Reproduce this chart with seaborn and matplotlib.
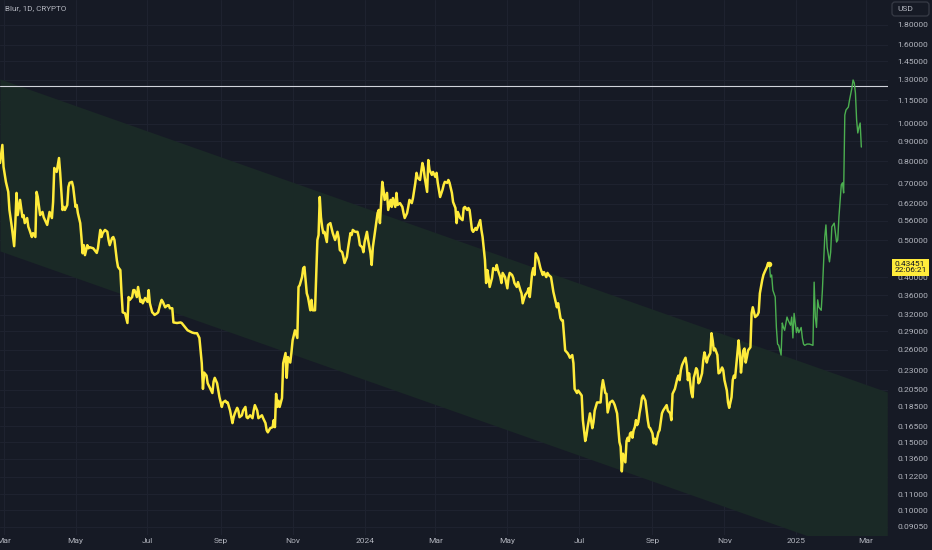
import numpy as np
import pandas as pd
import matplotlib
matplotlib.use("Agg")
import matplotlib.pyplot as plt
import matplotlib.dates as mdates
import matplotlib.transforms as mtrans
from matplotlib.patches import FancyBboxPatch
import seaborn as sns

# ---------------- data ----------------
start_date = "2023-02-26"

hist_days = [0, 2, 3, 5, 7, 8, 10, 12, 13, 14, 15, 17, 19, 20, 21, 23, 24, 25, 27, 28, 30, 31, 32, 34, 36, 37, 40, 42, 44, 45,
             46, 48, 50, 51, 53, 54, 55, 57, 58, 59, 61, 62, 64, 65, 66, 68, 69, 70, 71, 72, 74, 75, 76, 79, 82, 83, 85, 86, 87, 89,
             91, 92, 93, 95, 96, 97, 99, 100, 102, 103, 104, 106, 108, 109, 110, 112, 113, 114, 116, 117, 119, 120, 121, 123, 125, 126, 127, 129, 130, 131,
             133, 134, 136, 137, 138, 140, 142, 143, 144, 146, 147, 150, 153, 154, 157, 159, 163, 165, 167, 169, 170, 171, 172, 173, 175, 176, 178, 180, 181, 182,
             184, 185, 186, 188, 189, 191, 192, 193, 195, 197, 198, 199, 201, 202, 203, 205, 206, 208, 209, 210, 212, 214, 215, 216, 218, 219, 220, 222, 223, 225,
             226, 227, 229, 231, 232, 233, 234, 235, 236, 237, 239, 240, 242, 243, 244, 246, 247, 248, 250, 252, 253, 254, 256, 257, 258, 260, 261, 263, 264, 265,
             267, 269, 270, 271, 272, 273, 274, 275, 277, 278, 280, 281, 282, 284, 286, 287, 288, 290, 291, 292, 294, 295, 297, 298, 299, 301, 303, 304, 305, 307,
             308, 309, 311, 312, 314, 315, 316, 318, 320, 321, 322, 324, 325, 326, 328, 329, 331, 332, 333, 335, 336, 337, 339, 341, 342, 343, 345, 346, 347, 349,
             350, 352, 353, 354, 356, 358, 359, 360, 362, 363, 364, 366, 367, 369, 370, 371, 373, 375, 376, 377, 379, 380, 381, 383, 384, 386, 387, 388, 390, 392,
             393, 394, 396, 397, 398, 400, 401, 403, 404, 405, 407, 408, 409, 411, 412, 413, 414, 415, 417, 418, 420, 421, 422, 424, 425, 426, 428, 430, 431, 432,
             434, 435, 436, 438, 439, 441, 442, 443, 445, 447, 448, 449, 451, 452, 453, 454, 456, 457, 458, 460, 461, 463, 464, 465, 467, 469, 470, 471, 472, 473,
             475, 476, 477, 479, 481, 482, 483, 485, 486, 487, 489, 490, 492, 493, 494, 496, 497, 498, 500, 502, 503, 504, 506, 507, 509, 510, 511, 513, 514, 515,
             517, 519, 520, 521, 523, 524, 525, 526, 527, 528, 530, 531, 532, 533, 534, 535, 536, 537, 538, 539, 540, 541, 542, 543, 544, 545, 546, 547, 548, 549,
             550, 551, 553, 554, 555, 556, 557, 558, 559, 561, 562, 564, 565, 566, 568, 569, 570, 572, 574, 575, 576, 577, 578, 579, 581, 582, 583, 584, 586, 587,
             588, 589, 590, 591, 592, 593, 595, 596, 597, 598, 599, 600, 602, 603, 604, 605, 606, 608, 609, 610, 612, 613, 614, 616, 617, 618, 620, 621, 622, 623,
             625, 626, 627, 628, 629, 630, 631, 632, 633, 634, 636, 637, 638, 640, 642, 643, 644, 646, 647, 648, 650, 651, 652]

hist_price = [0.791, 0.881, 0.773, 0.707, 0.666, 0.598, 0.541, 0.482, 0.553, 0.662, 0.580, 0.635, 0.573, 0.580, 0.553, 0.570, 0.541, 0.531, 0.509, 0.521, 0.509, 0.666, 0.646, 0.580, 0.591, 0.573, 0.547, 0.591, 0.570, 0.627,
              0.768, 0.750, 0.815, 0.746, 0.598, 0.609, 0.598, 0.616, 0.686, 0.703, 0.707, 0.686, 0.609, 0.616, 0.587, 0.553, 0.509, 0.462, 0.485, 0.457, 0.485, 0.476, 0.479, 0.476, 0.463, 0.476, 0.531, 0.509, 0.521, 0.531,
              0.525, 0.500, 0.485, 0.506, 0.509, 0.500, 0.444, 0.426, 0.418, 0.364, 0.325, 0.323, 0.305, 0.356, 0.350, 0.356, 0.371, 0.371, 0.356, 0.378, 0.346, 0.350, 0.343, 0.354, 0.346, 0.371, 0.343, 0.325, 0.323, 0.320,
              0.323, 0.325, 0.343, 0.350, 0.346, 0.335, 0.339, 0.339, 0.333, 0.333, 0.306, 0.305, 0.306, 0.305, 0.297, 0.292, 0.288, 0.287, 0.287, 0.279, 0.259, 0.240, 0.206, 0.227, 0.223, 0.213, 0.207, 0.201, 0.215, 0.220,
              0.213, 0.204, 0.196, 0.185, 0.190, 0.192, 0.190, 0.190, 0.181, 0.168, 0.174, 0.178, 0.184, 0.181, 0.174, 0.176, 0.181, 0.185, 0.174, 0.173, 0.176, 0.173, 0.181, 0.187, 0.181, 0.173, 0.174, 0.176, 0.173, 0.168,
              0.161, 0.159, 0.163, 0.164, 0.171, 0.164, 0.200, 0.185, 0.192, 0.185, 0.195, 0.240, 0.255, 0.220, 0.249, 0.241, 0.256, 0.275, 0.292, 0.279, 0.378, 0.382, 0.401, 0.423, 0.426, 0.364, 0.356, 0.329, 0.350, 0.329,
              0.329, 0.500, 0.515, 0.646, 0.573, 0.541, 0.521, 0.525, 0.494, 0.547, 0.553, 0.537, 0.521, 0.500, 0.525, 0.506, 0.471, 0.465, 0.452, 0.436, 0.452, 0.476, 0.521, 0.515, 0.531, 0.525, 0.525, 0.509, 0.485, 0.479,
              0.465, 0.494, 0.525, 0.500, 0.462, 0.431, 0.479, 0.531, 0.587, 0.598, 0.553, 0.707, 0.674, 0.635, 0.662, 0.598, 0.635, 0.609, 0.642, 0.609, 0.662, 0.616, 0.623, 0.609, 0.587, 0.570, 0.587, 0.609, 0.635, 0.623,
              0.642, 0.703, 0.746, 0.724, 0.715, 0.791, 0.768, 0.724, 0.666, 0.805, 0.759, 0.737, 0.750, 0.728, 0.746, 0.703, 0.646, 0.674, 0.694, 0.707, 0.703, 0.715, 0.703, 0.662, 0.627, 0.605, 0.553, 0.591, 0.570, 0.563,
              0.605, 0.609, 0.598, 0.605, 0.598, 0.531, 0.525, 0.537, 0.531, 0.541, 0.563, 0.531, 0.509, 0.444, 0.387, 0.418, 0.401, 0.378, 0.399, 0.423, 0.418, 0.431, 0.418, 0.401, 0.387, 0.411, 0.401, 0.375, 0.399, 0.411,
              0.406, 0.399, 0.387, 0.378, 0.389, 0.371, 0.364, 0.343, 0.360, 0.367, 0.375, 0.356, 0.411, 0.423, 0.406, 0.462, 0.449, 0.436, 0.423, 0.406, 0.413, 0.401, 0.411, 0.406, 0.401, 0.367, 0.356, 0.346, 0.335, 0.343,
              0.314, 0.310, 0.310, 0.259, 0.255, 0.252, 0.248, 0.252, 0.240, 0.206, 0.201, 0.204, 0.200, 0.198, 0.171, 0.151, 0.156, 0.164, 0.178, 0.163, 0.169, 0.181, 0.190, 0.190, 0.190, 0.207, 0.217, 0.201, 0.200, 0.179,
              0.190, 0.192, 0.190, 0.187, 0.178, 0.164, 0.150, 0.146, 0.126, 0.140, 0.133, 0.151, 0.154, 0.151, 0.158, 0.159, 0.154, 0.161, 0.164, 0.171, 0.166, 0.169, 0.178, 0.185, 0.195, 0.198, 0.195, 0.192, 0.181, 0.171,
              0.164, 0.163, 0.158, 0.149, 0.153, 0.148, 0.154, 0.159, 0.161, 0.178, 0.181, 0.185, 0.187, 0.181, 0.178, 0.171, 0.200, 0.206, 0.219, 0.223, 0.217, 0.230, 0.237, 0.241, 0.248, 0.237, 0.217, 0.226, 0.201, 0.196,
              0.220, 0.226, 0.233, 0.230, 0.213, 0.215, 0.226, 0.244, 0.256, 0.249, 0.241, 0.248, 0.255, 0.287, 0.275, 0.259, 0.262, 0.252, 0.226, 0.227, 0.234, 0.230, 0.217, 0.204, 0.190, 0.184, 0.196, 0.217, 0.223, 0.220,
              0.255, 0.275, 0.255, 0.227, 0.244, 0.259, 0.262, 0.241, 0.249, 0.259, 0.264, 0.323, 0.335, 0.316, 0.320, 0.325, 0.364, 0.394, 0.406, 0.413, 0.426, 0.436, 0.43451]

proj_days = [652, 653, 654, 655, 657, 658, 659, 660, 662, 663, 664, 665, 667, 668, 670, 671, 672, 673, 675, 676,
             677, 679, 680, 681, 682, 684, 686, 689, 690, 691, 692, 693, 694, 696, 697, 698, 699, 700, 701, 703,
             704, 705, 707, 709, 710, 711, 713, 714, 715, 716, 717, 719, 720, 722, 723, 724, 725, 726, 727, 728, 729, 730]
proj_price = [0.43451, 0.401, 0.406, 0.371, 0.356, 0.297, 0.269, 0.267, 0.252, 0.305, 0.297, 0.292, 0.316, 0.310, 0.301, 0.316, 0.279, 0.323, 0.288, 0.297,
              0.288, 0.297, 0.279, 0.269, 0.267, 0.269, 0.269, 0.267, 0.389, 0.316, 0.297, 0.350, 0.335, 0.329, 0.371, 0.436, 0.509, 0.547, 0.479, 0.439,
              0.465, 0.541, 0.553, 0.494, 0.500, 0.573, 0.694, 0.703, 0.662, 1.053, 1.085, 1.104, 1.151, 1.236, 1.297, 1.275, 1.200, 1.022, 0.946, 0.980, 1.004, 0.870]

resistance_level = 1.252
channel_days = [0, 752]
channel_upper = [1.305, 0.2022]
channel_lower = [0.4684, 0.0726]

last_price = 0.43451
last_time = "22:06:21"
title_text = "Blur, 1D, CRYPTO"
currency = "USD"

y_ticks = [1.8, 1.6, 1.45, 1.3, 1.15, 1.0, 0.9, 0.8, 0.7, 0.62, 0.56, 0.5, 0.4, 0.36, 0.32, 0.29, 0.26,
           0.23, 0.205, 0.185, 0.165, 0.15, 0.136, 0.122, 0.11, 0.10, 0.0905]
x_tick_dates = ["2023-03-01", "2023-05-01", "2023-07-01", "2023-09-01", "2023-11-01", "2024-01-01", "2024-03-01",
                "2024-05-01", "2024-07-01", "2024-09-01", "2024-11-01", "2025-01-01", "2025-03-01"]
x_tick_labels = ["Mar", "May", "Jul", "Sep", "Nov", "2024", "Mar", "May", "Jul", "Sep", "Nov", "2025", "Mar"]

# ---------------- style ----------------
BG = "#161a25"
GRID = "#1f2330"
TXT = "#b2b5be"
YELLOW = "#ffeb3b"
GREEN = "#4caf50"
FILL = "#1a2926"

sns.set_style("dark")
plt.rcParams["font.family"] = ["Roboto", "DejaVu Sans"]

t0 = pd.Timestamp(start_date)
hist = pd.DataFrame({"date": t0 + pd.to_timedelta(hist_days, unit="D"), "price": hist_price})
proj = pd.DataFrame({"date": t0 + pd.to_timedelta(proj_days, unit="D"), "price": proj_price})
chan_dates = t0 + pd.to_timedelta(channel_days, unit="D")

W, H = 932, 550
fig = plt.figure(figsize=(W / 100, H / 100), dpi=100, facecolor=BG)
ax = fig.add_axes([0, 15 / H, 888 / W, 535 / H])
ax.set_facecolor(BG)
ax.set_yscale("log")

# channel
ax.fill_between(mdates.date2num(chan_dates), channel_lower, channel_upper, color=FILL, lw=0, zorder=1)

# resistance
ax.axhline(resistance_level, color="#d1d4dc", lw=0.8, zorder=3)

sns.lineplot(data=hist, x="date", y="price", ax=ax, color=YELLOW, lw=1.8, estimator=None, sort=False, zorder=5)
sns.lineplot(data=proj, x="date", y="price", ax=ax, color=GREEN, lw=1.0, estimator=None, sort=False, zorder=4)
ax.scatter([mdates.date2num(hist["date"].iloc[-1])], [hist["price"].iloc[-1]], s=16, color=YELLOW, zorder=6, lw=0)

ax.set_xlim(mdates.date2num(t0), mdates.date2num(t0 + pd.Timedelta(days=752.6)))
ax.set_ylim(0.08626, 2.089)

ax.set_xticks(mdates.date2num(pd.to_datetime(x_tick_dates)))
ax.set_xticklabels(x_tick_labels)
ax.yaxis.tick_right()
ax.set_yticks(y_ticks)
ax.set_yticklabels([f"{v:.5f}" for v in y_ticks])
ax.minorticks_off()
ax.tick_params(axis="y", length=0, pad=6.5, labelsize=6.1, labelcolor=TXT)
ax.tick_params(axis="x", length=0, pad=2.2, labelsize=6.0, labelcolor=TXT)
ax.set_xlabel("")
ax.set_ylabel("")
ax.grid(True, color=GRID, lw=0.7, zorder=0)
ax.set_axisbelow(True)
for s in ax.spines.values():
    s.set_visible(False)

# last price label
tr = mtrans.blended_transform_factory(ax.transAxes, ax.transData)
ax.annotate(f"{last_price:.5f}\n{last_time}", xy=(1.0, last_price), xycoords=tr,
            xytext=(4.5, -2.8), textcoords="offset points", ha="left", va="center",
            fontsize=6.0, color="#131722", linespacing=1.0, annotation_clip=False,
            bbox=dict(boxstyle="square,pad=0.25", fc=YELLOW, ec="none"))

fig.text(5 / W, 1 - 8 / H, title_text, color=TXT, fontsize=5.9, ha="left", va="center")

usd_box = FancyBboxPatch((892, H - 16), 37, 14, boxstyle="round,pad=0,rounding_size=3",
                         transform=mtrans.IdentityTransform(), fc=BG, ec="#363a45", lw=0.9)
fig.add_artist(usd_box)
fig.text(897 / W, 1 - 9 / H, currency, color=TXT, fontsize=6.0, ha="left", va="center")

fig.savefig("out.png", dpi=100, facecolor=BG)
